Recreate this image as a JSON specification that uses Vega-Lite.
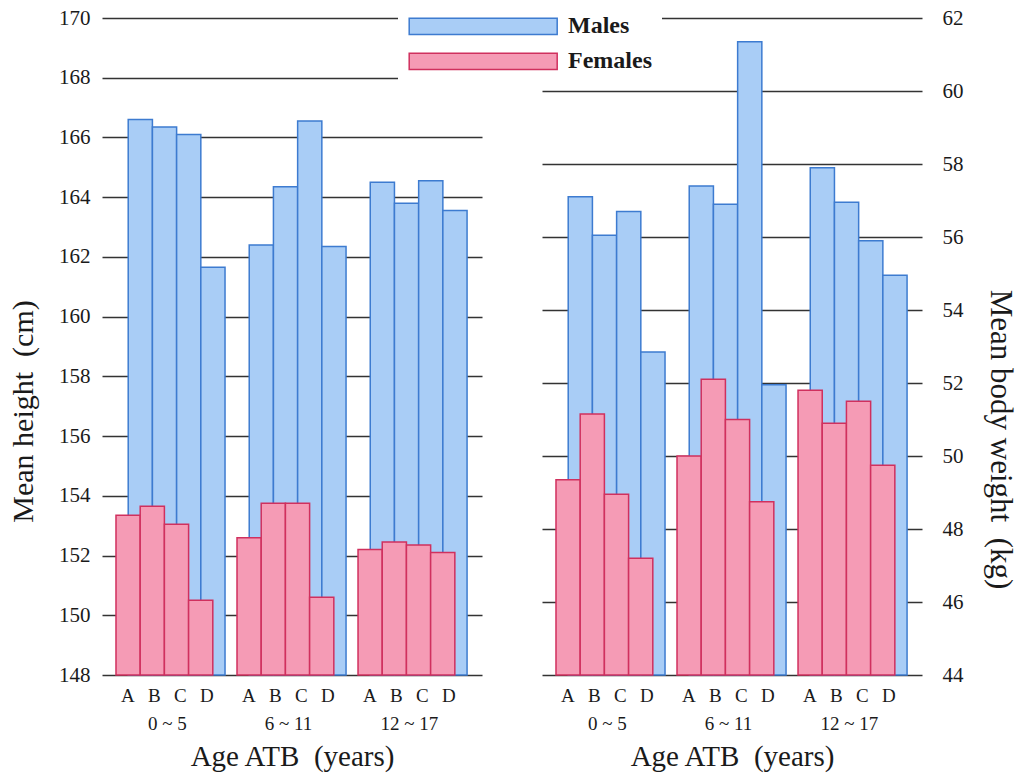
{
  "$schema": "https://vega.github.io/schema/vega-lite/v6.json",
  "padding": {"left": 8, "top": 0, "right": 2, "bottom": 2},
  "background": "white",
  "config": {
    "font": "Liberation Serif",
    "view": {"stroke": null},
    "axis": {"labelFont": "Liberation Serif", "titleFont": "Liberation Serif", "labelColor": "#1a1a1a", "titleColor": "#1a1a1a", "titleFontWeight": "normal"},
    "legend": {"labelFont": "Liberation Serif", "titleFont": "Liberation Serif"}
  },
  "datasets": {
    "height": [
      {"group": "0 ~ 5", "cat": "A", "sex": "Males", "value": 166.6},
      {"group": "0 ~ 5", "cat": "B", "sex": "Males", "value": 166.35},
      {"group": "0 ~ 5", "cat": "C", "sex": "Males", "value": 166.1},
      {"group": "0 ~ 5", "cat": "D", "sex": "Males", "value": 161.65},
      {"group": "6 ~ 11", "cat": "A", "sex": "Males", "value": 162.4},
      {"group": "6 ~ 11", "cat": "B", "sex": "Males", "value": 164.35},
      {"group": "6 ~ 11", "cat": "C", "sex": "Males", "value": 166.55},
      {"group": "6 ~ 11", "cat": "D", "sex": "Males", "value": 162.35},
      {"group": "12 ~ 17", "cat": "A", "sex": "Males", "value": 164.5},
      {"group": "12 ~ 17", "cat": "B", "sex": "Males", "value": 163.8},
      {"group": "12 ~ 17", "cat": "C", "sex": "Males", "value": 164.55},
      {"group": "12 ~ 17", "cat": "D", "sex": "Males", "value": 163.55},
      {"group": "0 ~ 5", "cat": "A", "sex": "Females", "value": 153.35},
      {"group": "0 ~ 5", "cat": "B", "sex": "Females", "value": 153.65},
      {"group": "0 ~ 5", "cat": "C", "sex": "Females", "value": 153.05},
      {"group": "0 ~ 5", "cat": "D", "sex": "Females", "value": 150.5},
      {"group": "6 ~ 11", "cat": "A", "sex": "Females", "value": 152.6},
      {"group": "6 ~ 11", "cat": "B", "sex": "Females", "value": 153.75},
      {"group": "6 ~ 11", "cat": "C", "sex": "Females", "value": 153.75},
      {"group": "6 ~ 11", "cat": "D", "sex": "Females", "value": 150.6},
      {"group": "12 ~ 17", "cat": "A", "sex": "Females", "value": 152.2},
      {"group": "12 ~ 17", "cat": "B", "sex": "Females", "value": 152.45},
      {"group": "12 ~ 17", "cat": "C", "sex": "Females", "value": 152.35},
      {"group": "12 ~ 17", "cat": "D", "sex": "Females", "value": 152.1}
    ],
    "weight": [
      {"group": "0 ~ 5", "cat": "A", "sex": "Males", "value": 57.1},
      {"group": "0 ~ 5", "cat": "B", "sex": "Males", "value": 56.05},
      {"group": "0 ~ 5", "cat": "C", "sex": "Males", "value": 56.7},
      {"group": "0 ~ 5", "cat": "D", "sex": "Males", "value": 52.85},
      {"group": "6 ~ 11", "cat": "A", "sex": "Males", "value": 57.4},
      {"group": "6 ~ 11", "cat": "B", "sex": "Males", "value": 56.9},
      {"group": "6 ~ 11", "cat": "C", "sex": "Males", "value": 61.35},
      {"group": "6 ~ 11", "cat": "D", "sex": "Males", "value": 51.95},
      {"group": "12 ~ 17", "cat": "A", "sex": "Males", "value": 57.9},
      {"group": "12 ~ 17", "cat": "B", "sex": "Males", "value": 56.95},
      {"group": "12 ~ 17", "cat": "C", "sex": "Males", "value": 55.9},
      {"group": "12 ~ 17", "cat": "D", "sex": "Males", "value": 54.95},
      {"group": "0 ~ 5", "cat": "A", "sex": "Females", "value": 49.35},
      {"group": "0 ~ 5", "cat": "B", "sex": "Females", "value": 51.15},
      {"group": "0 ~ 5", "cat": "C", "sex": "Females", "value": 48.95},
      {"group": "0 ~ 5", "cat": "D", "sex": "Females", "value": 47.2},
      {"group": "6 ~ 11", "cat": "A", "sex": "Females", "value": 50.0},
      {"group": "6 ~ 11", "cat": "B", "sex": "Females", "value": 52.1},
      {"group": "6 ~ 11", "cat": "C", "sex": "Females", "value": 51.0},
      {"group": "6 ~ 11", "cat": "D", "sex": "Females", "value": 48.75},
      {"group": "12 ~ 17", "cat": "A", "sex": "Females", "value": 51.8},
      {"group": "12 ~ 17", "cat": "B", "sex": "Females", "value": 50.9},
      {"group": "12 ~ 17", "cat": "C", "sex": "Females", "value": 51.5},
      {"group": "12 ~ 17", "cat": "D", "sex": "Females", "value": 49.75}
    ]
  },
  "spacing": 60,
  "hconcat": [
    {
      "width": 380,
      "height": 657,
      "data": {"name": "height"},
      "resolve": {"scale": {"x": "independent", "xOffset": "independent"}},
      "encoding": {
        "xOffset": {"field": "cat", "type": "nominal", "sort": ["A", "B", "C", "D"]},
        "y": {"field": "value", "type": "quantitative", "stack": null,
          "scale": {"domain": [148, 170], "zero": false, "nice": false},
          "axis": {"title": "Mean height\u00a0 (cm)", "values": [148, 150, 152, 154, 156, 158, 160, 162, 164, 166, 168, 170],
            "grid": true, "gridColor": "#333333", "gridWidth": 1.3, "ticks": false, "domain": false,
            "labelPadding": 12, "labelFontSize": 21, "titleFontSize": 30, "titlePadding": 20, "titleY": 393}},
        "fill": {"field": "sex", "type": "nominal",
          "scale": {"domain": ["Males", "Females"], "range": ["#a9cdf6", "#f59bb5"]},
          "legend": {"title": null, "orient": "none", "legendX": 296, "legendY": -17.6,
            "symbolType": "M-1,-0.55L9,-0.55L9,0.55L-1,0.55Z", "symbolSize": 876,
            "symbolStrokeWidth": 1.5, "labelFontSize": 24, "labelFontWeight": "bold", "labelColor": "#1a1a1a",
            "labelOffset": 128, "rowPadding": 7, "padding": 10, "fillColor": "white"}},
        "stroke": {"field": "sex", "type": "nominal",
          "scale": {"domain": ["Males", "Females"], "range": ["#3d7bd0", "#d0305e"]},
          "legend": {"title": null, "orient": "none", "legendX": 296, "legendY": -17.6,
            "symbolType": "M-1,-0.55L9,-0.55L9,0.55L-1,0.55Z", "symbolSize": 876,
            "symbolStrokeWidth": 1.5, "labelFontSize": 24, "labelFontWeight": "bold", "labelColor": "#1a1a1a",
            "labelOffset": 128, "rowPadding": 7, "padding": 10, "fillColor": "white"}}
      },
      "layer": [
        {"transform": [{"filter": "datum.sex === 'Males'"}],
         "mark": {"type": "bar", "strokeWidth": 1.5},
         "encoding": {"x": {"field": "group", "type": "nominal", "sort": ["0 ~ 5", "6 ~ 11", "12 ~ 17"],
           "scale": {"paddingInner": 0.2, "paddingOuter": 0.17, "align": 0.637}, "axis": null}}},
        {"transform": [{"filter": "datum.sex === 'Females'"}],
         "mark": {"type": "bar", "strokeWidth": 1.5},
         "encoding": {"x": {"field": "group", "type": "nominal", "sort": ["0 ~ 5", "6 ~ 11", "12 ~ 17"],
          "scale": {"paddingInner": 0.2, "paddingOuter": 0.17, "align": 0.34},
          "axis": {"title": "Age ATB\u00a0 (years)", "titleFontSize": 29, "titlePadding": 9,
            "labelExpr": "['A\u00a0\u2009\u00a0B\u00a0\u2009\u00a0C\u00a0\u2009\u00a0D', datum.value]",
            "labelFontSize": 19, "labelLineHeight": 28, "labelPadding": 11, "labelAngle": 0, "labelOffset": 3,
            "ticks": false, "domain": false, "grid": false}}}}
      ]
    },
    {
      "width": 380,
      "height": 657,
      "data": {"name": "weight"},
      "resolve": {"scale": {"x": "independent", "xOffset": "independent"}},
      "encoding": {
        "xOffset": {"field": "cat", "type": "nominal", "sort": ["A", "B", "C", "D"]},
        "y": {"field": "value", "type": "quantitative", "stack": null,
          "scale": {"domain": [44, 62], "zero": false, "nice": false},
          "axis": {"orient": "right", "title": "Mean body weight\u00a0 (kg)", "values": [44, 46, 48, 50, 52, 54, 56, 58, 60, 62],
            "grid": true, "gridColor": "#333333", "gridWidth": 1.3, "ticks": false, "domain": false,
            "labelPadding": 20, "labelFontSize": 21, "titleFontSize": 31, "titlePadding": 20, "titleY": 421}},
        "fill": {"field": "sex", "type": "nominal",
          "scale": {"domain": ["Males", "Females"], "range": ["#a9cdf6", "#f59bb5"]}},
        "stroke": {"field": "sex", "type": "nominal",
          "scale": {"domain": ["Males", "Females"], "range": ["#3d7bd0", "#d0305e"]}}
      },
      "layer": [
        {"transform": [{"filter": "datum.sex === 'Males'"}],
         "mark": {"type": "bar", "strokeWidth": 1.5},
         "encoding": {"x": {"field": "group", "type": "nominal", "sort": ["0 ~ 5", "6 ~ 11", "12 ~ 17"],
           "scale": {"paddingInner": 0.2, "paddingOuter": 0.17, "align": 0.637}, "axis": null}}},
        {"transform": [{"filter": "datum.sex === 'Females'"}],
         "mark": {"type": "bar", "strokeWidth": 1.5},
         "encoding": {"x": {"field": "group", "type": "nominal", "sort": ["0 ~ 5", "6 ~ 11", "12 ~ 17"],
          "scale": {"paddingInner": 0.2, "paddingOuter": 0.17, "align": 0.34},
          "axis": {"title": "Age ATB\u00a0 (years)", "titleFontSize": 29, "titlePadding": 9,
            "labelExpr": "['A\u00a0\u2009\u00a0B\u00a0\u2009\u00a0C\u00a0\u2009\u00a0D', datum.value]",
            "labelFontSize": 19, "labelLineHeight": 28, "labelPadding": 11, "labelAngle": 0, "labelOffset": 3,
            "ticks": false, "domain": false, "grid": false}}}}
      ]
    }
  ]
}
